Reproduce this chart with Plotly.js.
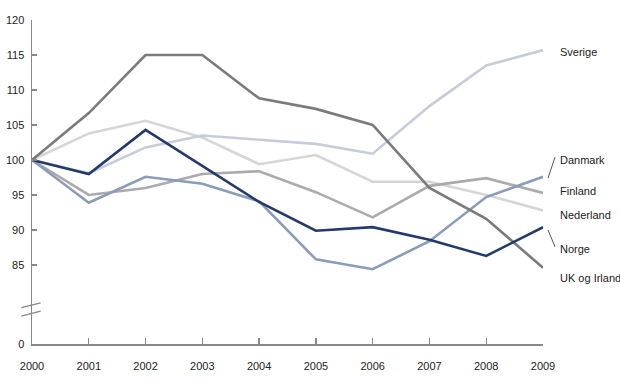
<!DOCTYPE html>
<html>
<head>
<meta charset="utf-8">
<script src="https://cdn.plot.ly/plotly-3.0.1.min.js"></script>
<style>
html, body { margin: 0; padding: 0; background: #fff; }
#chart { width: 620px; height: 387px; }
</style>
</head>
<body>
<div id="chart"></div>
<script>
// ---- data ----
const years = [2000, 2001, 2002, 2003, 2004, 2005, 2006, 2007, 2008, 2009];
const ukIrland  = [100, 106.7, 115.0, 115.0, 108.8, 107.3, 105.0, 96.0, 91.6, 84.6];
const sverige   = [100, 98.1, 101.8, 103.5, 102.9, 102.3, 100.9, 107.7, 113.5, 115.7];
const nederland = [100, 103.8, 105.6, 103.2, 99.4, 100.7, 96.9, 96.9, 95.0, 92.8];
const finland   = [100, 95.0, 96.0, 98.0, 98.4, 95.4, 91.8, 96.3, 97.4, 95.3];
const danmark   = [100, 93.9, 97.6, 96.6, 94.1, 85.8, 84.4, 88.4, 94.7, 97.6];
const norge     = [100, 98.0, 104.3, 99.2, 94.0, 89.9, 90.4, 88.6, 86.3, 90.4];
const seriesNames = ['UK og Irland', 'Sverige', 'Nederland', 'Finland', 'Danmark', 'Norge'];
const yTickValues = [85, 90, 95, 100, 105, 110, 115, 120];
const yTickLabels = ['85', '90', '95', '100', '105', '110', '115', '120'];
const zeroLabel = '0';

// broken axis: the "0" label sits at this position on the compressed axis
const BREAK_ZERO = 73.71;

const colors = ['#7b7b7b', '#c6ccda', '#d6d6d6', '#ababab', '#8a9cba', '#243a6c'];
const allSeries = [ukIrland, sverige, nederland, finland, danmark, norge];

// draw order: light lines first, dark on top
const order = [2, 1, 3, 4, 0, 5];
const traces = order.map(i => ({
  x: years, y: allSeries[i], name: seriesNames[i],
  type: 'scatter', mode: 'lines', cliponaxis: false,
  line: { color: colors[i], width: 2.6 },
  hoverinfo: 'skip'
}));

const font = { family: 'Liberation Sans, Arial, sans-serif', size: 11, color: '#222' };

const labelPos = { 'Sverige': 115.4, 'Danmark': 100.0, 'Finland': 95.6, 'Nederland': 92.1, 'Norge': 87.3, 'UK og Irland': 83.1 };
const annotations = seriesNames.map(n => ({
  text: n, xref: 'paper', yref: 'y', x: 1.029, y: labelPos[n],
  xanchor: 'left', yanchor: 'middle', showarrow: false, font: font
}));

const shapes = [
  // axis break marks
  { type: 'line', xref: 'paper', yref: 'y', x0: -0.021, x1: 0.017, y0: 78.9, y1: 79.6, line: { color: '#888', width: 1.3 } },
  { type: 'line', xref: 'paper', yref: 'y', x0: -0.021, x1: 0.017, y0: 77.7, y1: 78.4, line: { color: '#888', width: 1.3 } },
  // leader lines
  { type: 'line', xref: 'paper', yref: 'y', x0: 1.0098, x1: 1.0235, y0: 97.4, y1: 100.4, line: { color: '#555', width: 1 } },
  { type: 'line', xref: 'paper', yref: 'y', x0: 1.0098, x1: 1.0235, y0: 90.0, y1: 87.6, line: { color: '#555', width: 1 } }
];

const layout = {
  width: 620, height: 387,
  margin: { l: 32, r: 77, t: 20, b: 43 },
  paper_bgcolor: '#fff', plot_bgcolor: '#fff',
  showlegend: false,
  font: font,
  xaxis: {
    range: [2000, 2009], tickvals: years, ticktext: years.map(String),
    ticks: 'inside', ticklen: 6, tickcolor: '#888', tickwidth: 1.3,
    showline: true, linecolor: '#888', linewidth: 1.5,
    showgrid: false, zeroline: false, tickfont: font, ticklabelstandoff: 11
  },
  yaxis: {
    range: [BREAK_ZERO, 120],
    tickvals: [BREAK_ZERO].concat(yTickValues),
    ticktext: [zeroLabel].concat(yTickLabels),
    ticks: 'inside', ticklen: 5, tickcolor: '#888', tickwidth: 1.3,
    showline: true, linecolor: '#888', linewidth: 1.5,
    showgrid: false, zeroline: false, tickfont: font, ticklabelstandoff: 4
  },
  annotations: annotations,
  shapes: shapes
};

Plotly.newPlot('chart', traces, layout, { staticPlot: true, displayModeBar: false });
</script>
</body>
</html>
